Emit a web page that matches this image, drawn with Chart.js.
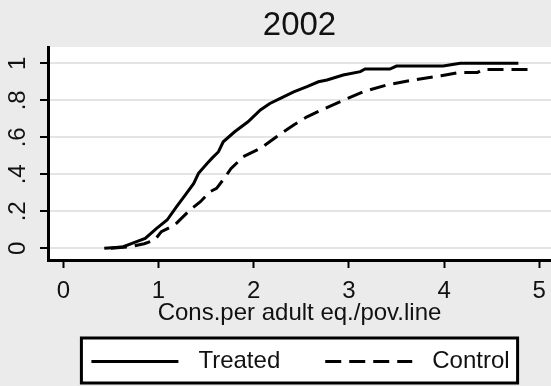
<!DOCTYPE html>
<html>
<head>
<meta charset="utf-8">
<script src="https://cdn.jsdelivr.net/npm/chart.js@4.4.1/dist/chart.umd.min.js"></script>
<style>
  html, body { margin: 0; padding: 0; background: #ebebeb; }
  canvas { display: block; }
</style>
</head>
<body>
<canvas id="myChart" width="551" height="386"></canvas>
<script>
const treatedX = [0.43, 0.55, 0.63, 0.77, 0.86, 0.98, 1.09, 1.19, 1.28, 1.37, 1.42, 1.51, 1.56, 1.63, 1.68, 1.80, 1.94, 2.07, 2.17, 2.28, 2.42, 2.56, 2.68, 2.77, 2.94, 3.12, 3.17, 3.43, 3.50, 3.99, 4.17, 4.78];
const treatedY = [0.0, 0.005, 0.009, 0.036, 0.054, 0.108, 0.153, 0.225, 0.288, 0.351, 0.405, 0.459, 0.486, 0.522, 0.576, 0.63, 0.684, 0.748, 0.783, 0.81, 0.846, 0.874, 0.90, 0.91, 0.937, 0.955, 0.969, 0.969, 0.985, 0.985, 1.0, 1.0];
const controlX = [0.50, 0.70, 0.85, 0.96, 1.03, 1.17, 1.33, 1.44, 1.54, 1.61, 1.70, 1.76, 1.89, 2.07, 2.24, 2.42, 2.56, 2.69, 2.94, 3.15, 3.40, 3.64, 3.78, 3.97, 4.15, 4.35, 4.41, 4.90];
const controlY = [0.0, 0.008, 0.025, 0.045, 0.09, 0.126, 0.207, 0.252, 0.306, 0.324, 0.385, 0.43, 0.495, 0.54, 0.603, 0.667, 0.711, 0.742, 0.80, 0.846, 0.883, 0.906, 0.918, 0.933, 0.95, 0.95, 0.967, 0.967];

const seriesNames = ['Treated', 'Control'];
const xTicks = [0, 1, 2, 3, 4, 5];
const yTicks = [0, 0.2, 0.4, 0.6, 0.8, 1];
const yTickLabels = ['0', '.2', '.4', '.6', '.8', '1'];

const toPoints = (xs, ys) => xs.map((x, i) => ({ x: x, y: ys[i] }));

Chart.defaults.font.family = '"Liberation Sans", Arial, sans-serif';

// grey page, white plot region
const plotBackground = {
  id: 'plotBackground',
  beforeDraw(chart) {
    const { ctx, chartArea: a } = chart;
    ctx.save();
    ctx.fillStyle = '#ebebeb';
    ctx.fillRect(0, 0, chart.width, chart.height);
    ctx.fillStyle = '#ffffff';
    ctx.fillRect(a.left, a.top, a.right - a.left, a.bottom - a.top);
    ctx.restore();
  }
};

// boxed legend centred under the plot region
const boxedLegend = {
  id: 'boxedLegend',
  afterDraw(chart) {
    const { ctx, chartArea: a } = chart;
    const lineLen = 87, textGap = 20, itemGap = 45, padL = 10, padR = 8;
    const top = 338, bottom = 383, midY = 361.5;
    ctx.save();
    ctx.font = '24px "Liberation Sans", Arial, sans-serif';
    const items = chart.data.datasets.map(ds => ({ ds: ds, w: ctx.measureText(ds.label).width }));
    let total = padL + padR;
    items.forEach((it, i) => { total += lineLen + textGap + it.w + (i > 0 ? itemGap : 0); });
    const left = (a.left + a.right) / 2 - total / 2;

    ctx.fillStyle = '#ffffff';
    ctx.fillRect(left, top, total, bottom - top);
    ctx.strokeStyle = '#000';
    ctx.lineWidth = 3;
    ctx.strokeRect(left, top, total, bottom - top);

    let x = left + padL;
    items.forEach((it, i) => {
      if (i > 0) x += itemGap;
      ctx.beginPath();
      ctx.setLineDash(it.ds.borderDash || []);
      ctx.lineWidth = it.ds.borderWidth;
      ctx.strokeStyle = it.ds.borderColor;
      ctx.moveTo(x, midY);
      ctx.lineTo(x + lineLen, midY);
      ctx.stroke();
      ctx.setLineDash([]);
      x += lineLen + textGap;
      ctx.fillStyle = '#111';
      ctx.textBaseline = 'middle';
      ctx.textAlign = 'left';
      ctx.fillText(it.ds.label, x, midY);
      x += it.w;
    });
    ctx.restore();
  }
};

new Chart(document.getElementById('myChart'), {
  type: 'line',
  data: {
    datasets: [
      {
        label: seriesNames[0],
        data: toPoints(treatedX, treatedY),
        borderColor: '#000',
        borderWidth: 3,
        pointRadius: 0,
        tension: 0,
        fill: false,
      },
      {
        label: seriesNames[1],
        data: toPoints(controlX, controlY),
        borderColor: '#000',
        borderWidth: 3,
        borderDash: [16, 8],
        pointRadius: 0,
        tension: 0,
        fill: false,
      },
    ],
  },
  options: {
    responsive: false,
    animation: false,
    layout: { padding: 0 },
    plugins: {
      legend: { display: false },
      tooltip: { enabled: false },
      title: {
        display: true,
        text: '2002',
        fullSize: false,
        color: '#111',
        font: { size: 33, weight: 'normal' },
        padding: { top: 6, bottom: 1.4 },
      },
    },
    scales: {
      x: {
        type: 'linear',
        min: -0.161,
        max: 5.123,
        afterBuildTicks: s => { s.ticks = xTicks.map(v => ({ value: v })); },
        afterFit: s => { s.height = 126; s.paddingLeft = 0; s.paddingRight = 0; },
        ticks: { color: '#111', font: { size: 24 }, padding: 9, autoSkip: false, maxRotation: 0, callback: v => String(v) },
        grid: { drawOnChartArea: false, tickLength: 8, tickColor: '#000', tickWidth: 2 },
        border: { color: '#000', width: 3 },
        title: {
          display: true,
          text: 'Cons.per adult eq./pov.line',
          color: '#111',
          font: { size: 24 },
          padding: { top: 0, bottom: 58 },
        },
      },
      y: {
        min: -0.063,
        max: 1.088,
        afterBuildTicks: s => { s.ticks = yTicks.map(v => ({ value: v })); },
        afterFit: s => { s.width = 48; s.paddingTop = 0; s.paddingBottom = 0; },
        ticks: {
          color: '#111',
          font: { size: 24 },
          padding: 11.5,
          minRotation: 90,
          maxRotation: 90,
          crossAlign: 'center',
          callback: (v, i) => yTickLabels[i],
        },
        grid: { color: '#e4e4e4', lineWidth: 2, tickLength: 8, tickColor: '#000', tickWidth: 2 },
        border: { color: '#000', width: 3 },
      },
    },
  },
  plugins: [plotBackground, boxedLegend],
});
</script>
</body>
</html>
